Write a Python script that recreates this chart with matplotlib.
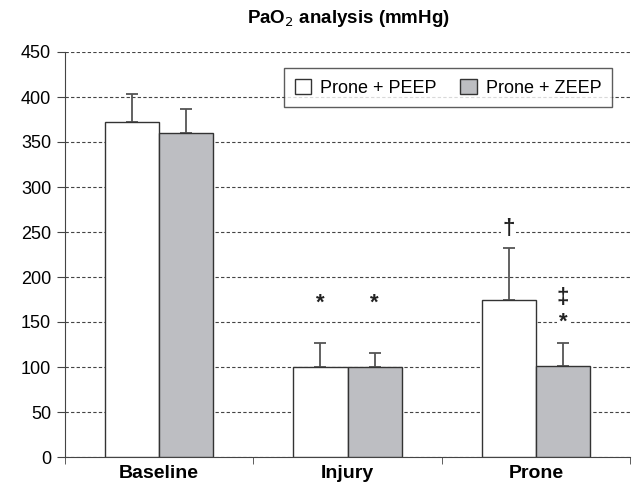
import matplotlib
matplotlib.use("Agg")
import matplotlib.pyplot as plt
import numpy as np

plt.rcParams['font.family'] = ['Liberation Sans', 'DejaVu Sans']

categories = ["Baseline", "Injury", "Prone"]
series_names = ["Prone + PEEP", "Prone + ZEEP"]
peep_values = [372, 100, 175]
peep_err = [31, 27, 57]
zeep_values = [360, 100, 101]
zeep_err = [27, 16, 26]
# annotations: (category index, series index, y value, symbol)
annotations = [(1, 0, 171, "*"), (1, 1, 171, "*"), (2, 0, 254, "\u2020"),
               (2, 1, 177, "\u2021"), (2, 1, 150, "*")]

fig = plt.figure(figsize=(6.32, 4.86), dpi=100)
ax = fig.add_axes([65/632, 1-457/486, 567/632, 405/486])

x = np.arange(len(categories))
w = 0.288
edge = "#333333"
errc = "#555555"
ax.bar(x - w/2, peep_values, w, color="white", edgecolor=edge, linewidth=1.0,
       label=series_names[0], zorder=3)
ax.bar(x + w/2, zeep_values, w, color="#bdbec2", edgecolor=edge, linewidth=1.0,
       label=series_names[1], zorder=3)
ax.errorbar(x - w/2, peep_values, yerr=[np.zeros(3), peep_err], fmt="none",
            ecolor=errc, elinewidth=1.3, capsize=4.5, capthick=1.3, zorder=2)
ax.errorbar(x + w/2, zeep_values, yerr=[np.zeros(3), zeep_err], fmt="none",
            ecolor=errc, elinewidth=1.3, capsize=4.5, capthick=1.3, zorder=2)

for ci, si, yv, sym in annotations:
    xp = x[ci] + (-w/2 if si == 0 else w/2)
    ax.text(xp, yv, sym, ha="center", va="center", fontsize=16, fontweight="bold",
            color="#222222", zorder=4,
            bbox=dict(facecolor="white", edgecolor="none", pad=1.0))

ax.set_xlim(-0.5, 2.51)
ax.set_ylim(0, 450)
ax.set_yticks(np.arange(0, 451, 50))
ax.yaxis.grid(True, linestyle=(0, (3, 2)), color="#444444", linewidth=0.8, zorder=0)
ax.set_axisbelow(True)
for s in ["top", "right"]:
    ax.spines[s].set_visible(False)
ax.spines["left"].set_color("#444444")
ax.spines["bottom"].set_color("#444444")
ax.spines["bottom"].set_bounds(-0.5, 2.5)
ax.set_xticks(x)
ax.set_xticklabels(categories, fontsize=14, fontweight="bold")
ax.tick_params(axis="x", which="major", length=0, pad=6)
ax.set_xticks([-0.5, 0.5, 1.5, 2.5], minor=True)
ax.tick_params(axis="x", which="minor", length=5, color="#444444", direction="out")
ax.tick_params(axis="y", labelsize=13, length=6, color="#444444", pad=4)

ax.set_title("PaO$_2$ analysis (mmHg)", fontsize=13.5, fontweight="bold", pad=21)

leg = ax.legend(loc="upper right", bbox_to_anchor=((612-65)/567, 1 - (68-52)/405),
                bbox_transform=ax.transAxes, ncol=2, frameon=True, fancybox=False,
                fontsize=13, handlelength=0.9, handleheight=0.9, handletextpad=0.5,
                columnspacing=1.3, borderpad=0.6, borderaxespad=0)
leg.get_frame().set_edgecolor("#333333")
leg.get_frame().set_linewidth(1.0)
leg.set_zorder(5)

fig.savefig("out.png", dpi=100)
